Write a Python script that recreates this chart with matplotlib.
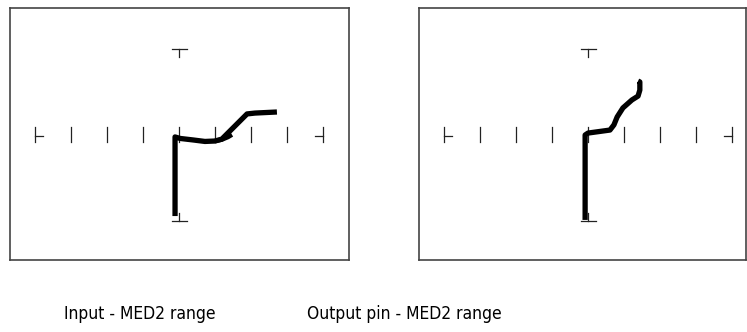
import matplotlib.pyplot as plt

# curve-tracer traces, in screen divisions (x: 36 px/div, y: 21.5 px/div)
input_x = [-0.11, -0.11, 0.03, 0.39, 0.72, 1.00, 1.19, 1.89, 2.11, 2.72]
input_y = [-3.77, -0.09, -0.16, -0.23, -0.30, -0.28, -0.19, 0.98, 1.02, 1.07]
input_hook_x = [1.00, 1.19, 1.36, 1.47]
input_hook_y = [-0.28, -0.21, -0.09, 0.02]

output_x = [-0.08, -0.08, 0.00, 0.61, 0.72, 0.81, 0.97, 1.22, 1.39, 1.44, 1.44, 1.39]
output_y = [-3.95, 0.00, 0.09, 0.23, 0.47, 0.84, 1.26, 1.63, 1.81, 2.09, 2.47, 2.51]

captions = ["Input - MED2 range", "Output pin - MED2 range"]

W, H = 747, 332
fig = plt.figure(figsize=(W / 100, H / 100), dpi=100)


def scope(left, right, cx, top=8, bottom=260, cy=135):
    ax = fig.add_axes([left / W, 1 - bottom / H, (right - left) / W, (bottom - top) / H])
    ax.set_xlim((left - cx) / 36, (right - cx) / 36)
    ax.set_ylim((cy - bottom) / 21.5, (cy - top) / 21.5)
    ax.set_xticks([])
    ax.set_yticks([])
    for s in ax.spines.values():
        s.set_color("#444444")
        s.set_linewidth(1.2)
    gc = "#222222"
    # graticule ticks on the horizontal axis
    for i in range(-3, 4):
        ax.plot([i, i], [-0.33, 0.38], color=gc, lw=0.9)
    ax.plot([-4, -4], [-0.33, 0.38], color=gc, lw=0.9)
    ax.plot([-4, -3.78], [-0.05, -0.05], color=gc, lw=0.9)
    ax.plot([4, 4], [-0.33, 0.38], color=gc, lw=0.9)
    ax.plot([4, 3.78], [-0.05, -0.05], color=gc, lw=0.9)
    # top and bottom markers
    ax.plot([-0.2, 0.22], [4, 4], color=gc, lw=0.9)
    ax.plot([0, 0], [4, 3.62], color=gc, lw=0.9)
    ax.plot([-0.2, 0.22], [-4, -4], color=gc, lw=0.9)
    ax.plot([0, 0], [-4, -3.62], color=gc, lw=0.9)
    return ax


ax1 = scope(10, 349, 179)
ax1.plot(input_x, input_y, color="black", lw=3.8, solid_joinstyle="round", solid_capstyle="butt")
ax1.plot(input_hook_x, input_hook_y, color="black", lw=3.4, solid_capstyle="butt")

ax2 = scope(419, 746, 588)
ax2.plot(output_x, output_y, color="black", lw=3.8, solid_joinstyle="round", solid_capstyle="butt")

fig.text(140 / W, 1 - 314 / H, captions[0], ha="center", va="center",
         fontsize=12.5, family="DejaVu Sans", fontstretch="condensed")
fig.text(404 / W, 1 - 314 / H, captions[1], ha="center", va="center",
         fontsize=12.5, family="DejaVu Sans", fontstretch="condensed")

fig.savefig("out.png", dpi=100)
